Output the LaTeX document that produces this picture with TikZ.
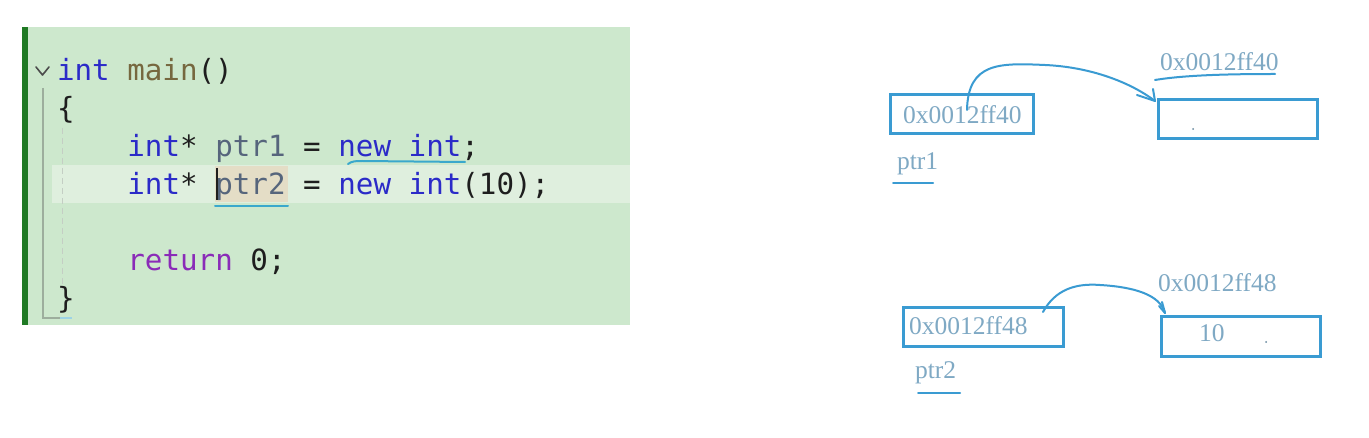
\documentclass[tikz,border=0pt]{standalone}
\usepackage{fontspec}
\newfontfamily\codefont{DejaVu Sans Mono}
\newfontfamily\handfont{Liberation Serif}
\definecolor{kw}{HTML}{2B2BC8}
\definecolor{fn}{HTML}{76683F}
\definecolor{var}{HTML}{56657C}
\definecolor{ret}{HTML}{8A2BB8}
\definecolor{punc}{HTML}{1E1E1E}
\definecolor{panel}{HTML}{CDE8CD}
\definecolor{curline}{HTML}{DFEFDE}
\definecolor{wordhl}{HTML}{E4DDC6}
\definecolor{bar}{HTML}{1F7A24}
\definecolor{guide}{HTML}{9DAE9D}
\definecolor{squig}{HTML}{3AA8CC}
\definecolor{ink}{HTML}{3A9BD2}
\definecolor{handtext}{HTML}{7FA9C4}
\newcommand\handtxt[1]{{\handfont\fontsize{25.5}{30}\selectfont #1}}
\tikzset{
  code/.style={inner sep=0pt, outer sep=0pt, anchor=base west, text=punc,
    font=\codefont\fontsize{29.2}{35}\selectfont},
  hand/.style={inner sep=0pt, outer sep=0pt, anchor=base west, text=handtext},
  membox/.style={draw=ink, line width=3pt, inner sep=0pt, outer sep=0pt, anchor=north west},
  inkline/.style={draw=ink, line width=2pt, line cap=round, line join=round},
}
\begin{document}
\begin{tikzpicture}[x=1pt,y=-1pt]
\path[use as bounding box, fill=white] (0,0) rectangle (1369,438);
% code panel
\fill[panel] (22,27) rectangle (630,325);
\fill[curline] (52,165) rectangle (630,203);
\fill[wordhl] (215,166) rectangle (288,202);
\fill[bar] (22,27) rectangle (28,325);
\draw[guide, line width=1.2pt] (43,88) -- (43,318) -- (60,318);
\draw[squig!50, line width=1.2pt] (60,318) -- (72,318);
\draw[guide!60, line width=1pt, dash pattern=on 6pt off 4pt] (62,128) -- (62,290);
\draw[punc!80, line width=1.6pt, line cap=round, line join=round] (36,67) -- (42.5,75) -- (49,67);
\node[code] (l1) at (57,81) {\textcolor{kw}{int} \textcolor{fn}{main}()};
\node[code] (l2) at (57,119) {\{};
\node[code] (l3) at (127.4,157) {\textcolor{kw}{int}* \textcolor{var}{ptr1} = \textcolor{kw}{new} \textcolor{kw}{int};};
\node[code] (l4) at (127.4,195) {\textcolor{kw}{int}* \textcolor{var}{ptr2} = \textcolor{kw}{new} \textcolor{kw}{int}(10);};
\node[code] (l6) at (127.4,271) {\textcolor{ret}{return} 0;};
\node[code] (l7) at (57,309) {\}};
\draw[punc, line width=1.8pt] (217,168) -- (217,200);
\draw[squig, line width=2pt, line cap=round] (348,164) .. controls (352,161) and (356,161) .. (362,161) -- (465,162);
\draw[squig, line width=2pt, line cap=round] (215,206) -- (288,206);
% memory boxes
\node[membox, minimum width=143pt, minimum height=39pt] (b1) at (890,95) {};
\node[membox, minimum width=159pt, minimum height=39pt] (b2) at (1158,100) {};
\node[membox, minimum width=160pt, minimum height=39pt] (b3) at (903,308) {};
\node[membox, minimum width=159pt, minimum height=40pt] (b4) at (1161,317) {};
% texts
\node[hand] (t1) at (903,124) {\handtxt{0x0012ff40}};
\node[hand] (t2) at (1160,71) {\handtxt{0x0012ff40}};
\node[hand] (t3) at (897,170) {\handtxt{ptr1}};
\node[hand] (t4) at (909,335) {\handtxt{0x0012ff48}};
\node[hand] (t5) at (1158,292) {\handtxt{0x0012ff48}};
\node[hand] (t6) at (1199,342) {\handtxt{10}};
\node[hand] (t7) at (915,379) {\handtxt{ptr2}};
% underlines
\draw[inkline] (1155,80) .. controls (1185,75) and (1230,74) .. (1275,74);
\draw[inkline] (893,183) -- (933,183);
\draw[inkline] (918,393) -- (960,393);
% dots
\fill[handtext!80!black] (1193,129) circle (1pt);
\fill[handtext!80!black] (1266,342) circle (1pt);
% arrows
\coordinate (a1s) at (967,110);
\coordinate (a1e) at (1155,101);
\draw[inkline] (a1s) .. controls (968,62) and (1000,63) .. (1045,65)
  .. controls (1090,67) and (1130,82) .. (a1e);
\draw[inkline] (a1e) -- ++(-18,-6);
\draw[inkline] (a1e) -- ++(-2,-12);
\coordinate (a2s) at (1043,312);
\coordinate (a2e) at (1165,313);
\draw[inkline] (a2s) .. controls (1055,290) and (1075,283) .. (1100,285)
  .. controls (1135,287) and (1160,295) .. (a2e);
\draw[inkline] (a2e) -- ++(-6,-7);
\draw[inkline] (a2e) -- ++(-3,-11);
\end{tikzpicture}
\end{document}
